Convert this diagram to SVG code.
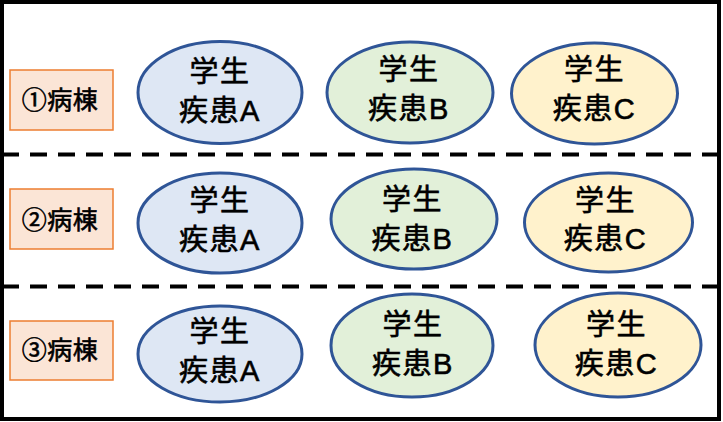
<svg xmlns="http://www.w3.org/2000/svg" width="723" height="422" viewBox="0 0 723 422">
<style>
text{font-family:"Liberation Sans","Noto Sans CJK JP",sans-serif;fill:#000;text-anchor:middle;stroke:#000;stroke-width:0.6px}
.t{font-size:29px;letter-spacing:1.5px}
.l{font-size:25px;letter-spacing:0.5px}
.box{fill:#FBE5D6;stroke:#ED7D31;stroke-width:1.5}
.e{stroke:#2F5597;stroke-width:3}
.a{fill:#DEE7F4}.b{fill:#E2F0D9}.c{fill:#FFF2CC}
.d{stroke:#000;stroke-width:4;stroke-dasharray:17 11;fill:none}
</style>
<rect x="2" y="2" width="717" height="417" fill="#fff" stroke="#000" stroke-width="4"/>
<g id="dividers">
<line class="d" x1="2" y1="154.5" x2="719" y2="154.5"/>
<line class="d" x1="2" y1="286.5" x2="719" y2="286.5"/>
</g>
<g id="ward1"><rect class="box" x="10" y="70" width="103" height="60"/><text class="l" x="60" y="109">①病棟</text></g>
<g id="ward2"><rect class="box" x="10" y="189" width="103" height="60"/><text class="l" x="60" y="229">②病棟</text></g>
<g id="ward3"><rect class="box" x="10" y="321" width="103" height="59"/><text class="l" x="60" y="359">③病棟</text></g>
<g id="r1a"><ellipse class="e a" cx="220" cy="92.5" rx="82" ry="51"/><text class="t" x="220" y="82">学生</text><text class="t" x="220" y="121">疾患A</text></g>
<g id="r1b"><ellipse class="e b" cx="410" cy="92.5" rx="83" ry="50.5"/><text class="t" x="409" y="80">学生</text><text class="t" x="409" y="119">疾患B</text></g>
<g id="r1c"><ellipse class="e c" cx="594.5" cy="93.5" rx="83" ry="50.5"/><text class="t" x="594.5" y="80">学生</text><text class="t" x="594.5" y="119">疾患C</text></g>
<g id="r2a"><ellipse class="e a" cx="220" cy="223" rx="82" ry="50"/><text class="t" x="220" y="211">学生</text><text class="t" x="220" y="250">疾患A</text></g>
<g id="r2b"><ellipse class="e b" cx="414" cy="219" rx="83" ry="50"/><text class="t" x="412.5" y="210">学生</text><text class="t" x="412.5" y="249">疾患B</text></g>
<g id="r2c"><ellipse class="e c" cx="608.5" cy="222.5" rx="84" ry="49.5"/><text class="t" x="605.5" y="211">学生</text><text class="t" x="605.5" y="249">疾患C</text></g>
<g id="r3a"><ellipse class="e a" cx="220" cy="354" rx="82" ry="48"/><text class="t" x="220" y="342">学生</text><text class="t" x="220" y="381">疾患A</text></g>
<g id="r3b"><ellipse class="e b" cx="412" cy="345.5" rx="81" ry="51.5"/><text class="t" x="413" y="335">学生</text><text class="t" x="413" y="374">疾患B</text></g>
<g id="r3c"><ellipse class="e c" cx="618" cy="345" rx="83" ry="52"/><text class="t" x="616.5" y="335">学生</text><text class="t" x="616.5" y="374">疾患C</text></g>
</svg>
